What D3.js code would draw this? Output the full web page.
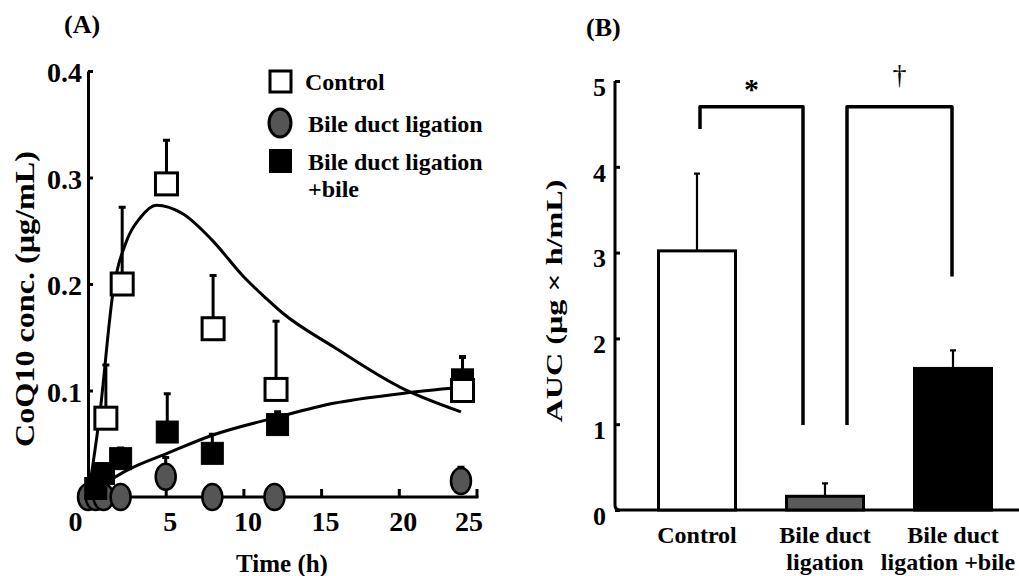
<!DOCTYPE html>
<html>
<head>
<meta charset="utf-8">
<script src="https://cdn.jsdelivr.net/npm/d3@7"></script>
<style>
  html, body { margin: 0; padding: 0; background: #fff; }
  svg text { font-family: "Liberation Serif", "Times New Roman", serif; font-weight: bold; fill: #000; }
</style>
</head>
<body>
<svg id="chart" width="1019" height="576"></svg>
<script>
// ---------------- Panel A data ----------------
const timeTicksA = [0, 5, 10, 15, 20, 25];
const concTicksA = [0.1, 0.2, 0.3, 0.4];

const controlTime = [1.15, 2.2, 5.05, 8.05, 12.1, 24.1];
const controlConc = [0.074, 0.200, 0.294, 0.158, 0.101, 0.100];
const controlErrTop = [0.124, 0.272, 0.335, 0.208, 0.165, 0.132];

const bdlTime = [0, 0.5, 1, 2.1, 5, 8, 12, 24];
const bdlConc = [0, 0, 0, 0, 0.019, 0, 0, 0.015];
const bdlErrTop = [null, null, null, null, 0.037, null, null, 0.028];

const bileTime = [0.5, 1, 2.1, 5.1, 8, 12.2, 24.1];
const bileConc = [0.008, 0.022, 0.036, 0.061, 0.041, 0.068, 0.110];
const bileErrTop = [null, null, 0.046, 0.097, 0.059, 0.080, 0.131];

// fitted curves
const controlFitTime = [0, 0.77, 1.6, 2.5, 3.35, 4.4, 6.1, 8.0, 10.0, 11.5, 12.5, 15.8, 20.1, 24.0];
const controlFitConc = [0, 0.079, 0.191, 0.241, 0.262, 0.274, 0.266, 0.241, 0.207, 0.186, 0.173, 0.141, 0.103, 0.080];
const bileFitTime = [1, 2.5, 5.1, 8, 12.2, 15.8, 20.1, 24.0];
const bileFitConc = [0.012, 0.025, 0.041, 0.058, 0.075, 0.088, 0.097, 0.103];

const legendLabels = ["Control", "Bile duct ligation", "Bile duct ligation", "+bile"];

// ---------------- Panel B data ----------------
const categoriesB = ["Control", "Bile duct ligation", "Bile duct ligation +bile"];
const categoryLinesB = [["Control"], ["Bile duct", "ligation"], ["Bile duct", "ligation +bile"]];
const aucMean = [3.02, 0.16, 1.65];
const aucErrTop = [3.92, 0.31, 1.86];
const aucTicks = [0, 1, 2, 3, 4, 5];
const bracketFrom = [0, 1];
const bracketTo = [1, 2];
const bracketTopVal = [4.70, 4.70];
const bracketLeftEnd = [4.44, 0.99];
const bracketRightEnd = [0.99, 2.72];
const bracketLabels = ["*", "\u2020"];

// ---------------- drawing ----------------
const svg = d3.select("#chart");
const FONT = '"Liberation Serif", "Times New Roman", serif';

// ===== Panel A =====
const xA = d3.scaleLinear().domain([0, 25]).range([88, 476.5]);
const yA = d3.scaleLinear().domain([0, 0.4]).range([497, 71]);
const gA = svg.append("g");

gA.append("text").attr("x", 64).attr("y", 33).style("font-size", "26px").text("(A)");

// y axis
const yAxisA = gA.append("g").attr("transform", `translate(${xA(0)},0)`)
  .call(d3.axisLeft(yA).tickValues(concTicksA).tickFormat(d3.format(".1f"))
        .tickSize(-5).tickSizeOuter(0).tickPadding(6));
// x axis
const xAxisA = gA.append("g").attr("transform", `translate(0,${yA(0)})`)
  .call(d3.axisBottom(xA).tickValues(timeTicksA).tickFormat(d3.format("d"))
        .tickSize(-8).tickSizeOuter(0).tickPadding(14));
[yAxisA, xAxisA].forEach(g => {
  g.select(".domain").attr("stroke", "#000").attr("stroke-width", 3);
  g.selectAll(".tick line").attr("stroke", "#000").attr("stroke-width", 3);
  g.selectAll(".tick text").style("font-size", "28px")
    .style("font-family", FONT).style("font-weight", "bold");
});
xAxisA.select(".domain").attr("d", `M${xA(0)},0H${xA(25) + 2}`);
xAxisA.selectAll(".tick text").attr("dx", d => d === 0 ? -13 : (d === 25 ? -8 : 4));
yAxisA.selectAll(".tick text").attr("dy", "0.38em");

// axis titles
gA.append("text").attr("transform", `translate(34,299) rotate(-90)`)
  .attr("text-anchor", "middle").style("font-size", "28px")
  .attr("textLength", 296).attr("lengthAdjust", "spacingAndGlyphs")
  .text("CoQ10 conc. (\u03bcg/mL)");
gA.append("text").attr("x", 282).attr("y", 572).attr("text-anchor", "middle")
  .style("font-size", "25px").text("Time (h)");

// fitted curves
const lineA = d3.line().x(d => xA(d[0])).y(d => yA(d[1])).curve(d3.curveMonotoneX);
gA.append("path").datum(d3.zip(controlFitTime, controlFitConc)).attr("d", lineA)
  .attr("fill", "none").attr("stroke", "#000").attr("stroke-width", 3);
gA.append("path").datum(d3.zip(bileFitTime, bileFitConc)).attr("d", lineA)
  .attr("fill", "none").attr("stroke", "#000").attr("stroke-width", 3);

// error bars
function errBars(g, times, vals, tops) {
  const d = times.map((t, i) => ({ t, v: vals[i], top: tops[i] })).filter(e => e.top != null);
  g.selectAll(null).data(d).enter().append("path")
    .attr("d", e => `M${xA(e.t)},${yA(e.v)}V${yA(e.top)}M${xA(e.t) - 3.5},${yA(e.top)}H${xA(e.t) + 3.5}`)
    .attr("stroke", "#000").attr("stroke-width", 3).attr("fill", "none");
}
errBars(gA, controlTime, controlConc, controlErrTop);
errBars(gA, bdlTime, bdlConc, bdlErrTop);
errBars(gA, bileTime, bileConc, bileErrTop);

const SQ = 22;
// BDL circles
gA.selectAll(null).data(d3.zip(bdlTime, bdlConc)).enter().append("ellipse")
  .attr("cx", d => xA(d[0])).attr("cy", d => yA(d[1])).attr("rx", 10).attr("ry", 13)
  .attr("fill", "#555").attr("stroke", "#000").attr("stroke-width", 2.5);
// Bile squares
gA.selectAll(null).data(d3.zip(bileTime, bileConc)).enter().append("rect")
  .attr("x", d => xA(d[0]) - SQ / 2).attr("y", d => yA(d[1]) - SQ / 2)
  .attr("width", SQ).attr("height", SQ).attr("fill", "#000").attr("stroke", "#000").attr("stroke-width", 1);
// Control squares
gA.selectAll(null).data(d3.zip(controlTime, controlConc)).enter().append("rect")
  .attr("x", d => xA(d[0]) - SQ / 2).attr("y", d => yA(d[1]) - SQ / 2)
  .attr("width", SQ).attr("height", SQ).attr("fill", "#fff").attr("stroke", "#000").attr("stroke-width", 3);

// legend
const lg = gA.append("g");
lg.append("rect").attr("x", 270).attr("y", 71).attr("width", 21).attr("height", 21)
  .attr("fill", "#fff").attr("stroke", "#000").attr("stroke-width", 3);
lg.append("ellipse").attr("cx", 280).attr("cy", 123).attr("rx", 11).attr("ry", 14)
  .attr("fill", "#555").attr("stroke", "#000").attr("stroke-width", 3);
lg.append("rect").attr("x", 269).attr("y", 149).attr("width", 23).attr("height", 24).attr("fill", "#000");
const legendY = [90, 132, 170, 197];
const legendX = [305, 308, 308, 308];
legendLabels.forEach((s, i) => {
  lg.append("text").attr("x", legendX[i]).attr("y", legendY[i]).style("font-size", "24px").text(s);
});

// ===== Panel B =====
const yB = d3.scaleLinear().domain([0, 5]).range([510, 81]);
const xB = d3.scalePoint().domain(categoriesB).range([697, 953]);
const BW = 77;
const gB = svg.append("g");

gB.append("text").attr("x", 586).attr("y", 36).style("font-size", "26px").text("(B)");

const yAxisB = gB.append("g").attr("transform", `translate(615,0)`)
  .call(d3.axisLeft(yB).tickValues(aucTicks).tickFormat(d3.format("d"))
        .tickSize(-5).tickSizeOuter(0).tickPadding(9));
yAxisB.select(".domain").remove();
yAxisB.selectAll(".tick line").attr("stroke", "#000").attr("stroke-width", 3);
yAxisB.selectAll(".tick text").style("font-size", "26px").attr("dy", "0.55em")
  .style("font-family", FONT).style("font-weight", "bold");
// axis frame with rounded corner
gB.append("path").attr("d", `M615,${yB(5)}V${yB(0) - 5}Q615,${yB(0)} 620,${yB(0)}H1019`)
  .attr("fill", "none").attr("stroke", "#000").attr("stroke-width", 3);

gB.append("text").attr("transform", `translate(562,301) rotate(-90)`)
  .attr("text-anchor", "middle").style("font-size", "24px")
  .attr("textLength", 243).attr("lengthAdjust", "spacingAndGlyphs")
  .text("AUC (\u03bcg \u00d7 h/mL)");

// brackets
bracketFrom.forEach((f, i) => {
  const offs = i === 0 ? [3, -22] : [22, -1];
  const x1 = xB(categoriesB[f]) + offs[0];
  const x2 = xB(categoriesB[bracketTo[i]]) + offs[1];
  gB.append("path")
    .attr("d", `M${x1},${yB(bracketLeftEnd[i])}V${yB(bracketTopVal[i])}H${x2}V${yB(bracketRightEnd[i])}`)
    .attr("fill", "none").attr("stroke", "#000").attr("stroke-width", 3.5).attr("stroke-linejoin", "round");
  gB.append("text").attr("x", (x1 + x2) / 2).attr("y", i === 0 ? 99 : 84)
    .attr("text-anchor", "middle").style("font-size", i === 0 ? "30px" : "28px")
    .style("font-weight", i === 0 ? "bold" : "normal")
    .text(bracketLabels[i]);
});

// error bars (thin)
gB.selectAll(null).data(categoriesB).enter().append("path")
  .attr("d", (c, i) => `M${xB(c)},${yB(aucMean[i])}V${yB(aucErrTop[i])}M${xB(c) - 3},${yB(aucErrTop[i])}H${xB(c) + 3}`)
  .attr("stroke", "#000").attr("stroke-width", 2.2).attr("fill", "none");

const barFills = ["#fff", "#5a5a5a", "#000"];
gB.selectAll(null).data(categoriesB).enter().append("rect")
  .attr("x", c => xB(c) - BW / 2).attr("width", BW)
  .attr("y", (c, i) => yB(aucMean[i])).attr("height", (c, i) => yB(0) - yB(aucMean[i]))
  .attr("fill", (c, i) => barFills[i]).attr("stroke", "#000").attr("stroke-width", 3);

// category labels
categoriesB.forEach((c, i) => {
  const t = gB.append("text").attr("text-anchor", "middle").style("font-size", "24px");
  categoryLinesB[i].forEach((line, j) => {
    t.append("tspan").attr("x", xB(c) + (j === 1 && i === 2 ? -5 : 0)).attr("y", 543 + j * 27).text(line);
  });
});
</script>
</body>
</html>
